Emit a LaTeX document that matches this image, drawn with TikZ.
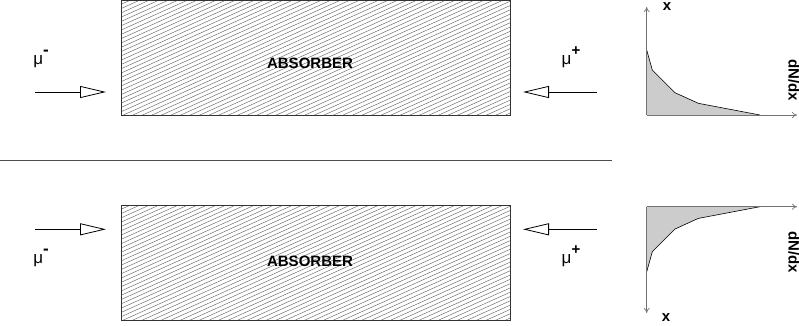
\documentclass[tikz,border=0pt]{standalone}
\usepackage{fontspec}
\setmainfont{Liberation Sans}
\usetikzlibrary{arrows.meta}
\tikzset{
  absbox/.style={draw=black!80, line width=0.9pt},
  hatchline/.style={draw=black!60, line width=0.45pt},
  beam/.style={line width=0.8pt, -{Triangle[open, length=26pt, width=12pt, line width=0.8pt]}},
  lbl/.style={font=\fontsize{15}{15}\selectfont\bfseries, inner sep=0pt},
  mu/.style={font=\fontsize{17}{17}\selectfont, inner sep=0pt, anchor=base},
  axis/.style={draw=black!55, line width=0.7pt, -{To[length=5pt,width=6pt]}},
  dist/.style={fill=black!20, draw=black, line width=0.6pt},
  axlbl/.style={font=\fontsize{15}{15}\selectfont\bfseries, inner sep=0pt}
}
\begin{document}
\begin{tikzpicture}[x=1pt, y=-1pt]
\useasboundingbox (0,0) rectangle (799,325);
\clip (0,0) rectangle (799,325);

% ---------- top absorber ----------
\begin{scope}
  \clip (121,0.5) rectangle (510,115);
  \foreach \c in {0,4.3,...,300} {
    \draw[hatchline] (121,\c) -- (510,\c-175);
  }
\end{scope}
\node[absbox, minimum width=389pt, minimum height=114.5pt, inner sep=0pt] (abs1) at (315.5,57.75) {};
\node[lbl] (t1) at (310,63) {ABSORBER};

% ---------- bottom absorber ----------
\begin{scope}
  \clip (121,205.7) rectangle (510,320.7);
  \foreach \c in {205,209.3,...,505} {
    \draw[hatchline] (121,\c) -- (510,\c-175);
  }
\end{scope}
\node[absbox, minimum width=389pt, minimum height=115pt, inner sep=0pt] (abs2) at (315.5,263.2) {};
\node[lbl] (t2) at (310,261) {ABSORBER};

% separator
\coordinate (s1) at (0,160.7);
\coordinate (s2) at (612,160.7);
\draw[black!70, line width=0.9pt] (s1) -- (s2);

% ---------- beams top ----------
\coordinate (a1s) at (35,92);
\coordinate (a1e) at (106,92);
\draw[beam] (a1s) -- (a1e);
\coordinate (a2s) at (597,92);
\coordinate (a2e) at (523,92);
\draw[beam] (a2s) -- (a2e);
\node[mu] (m1) at (41,64) {μ\raisebox{9pt}{\bfseries -}};
\node[mu] (m2) at (571,64) {μ\raisebox{9pt}{\bfseries\fontsize{15}{15}\selectfont +}};

% ---------- beams bottom ----------
\coordinate (b1s) at (35,229.3);
\coordinate (b1e) at (106,229.3);
\draw[beam] (b1s) -- (b1e);
\coordinate (b2s) at (597,229.3);
\coordinate (b2e) at (523,229.3);
\draw[beam] (b2s) -- (b2e);
\node[mu] (m3) at (41,263) {μ\raisebox{9pt}{\bfseries -}};
\node[mu] (m4) at (571,263) {μ\raisebox{9pt}{\bfseries\fontsize{15}{15}\selectfont +}};

% ---------- top distribution ----------
\coordinate (o1) at (646.7,115);
\coordinate (y1) at (646.7,7);
\coordinate (x1) at (797,115);
\fill[black!20] (o1) -- (646.7,50) -- (652.3,70) -- (675,92.7) -- (698.3,103.3) -- (760,115) -- cycle;
\draw[black, line width=0.6pt] (646.7,50) -- (652.3,70) -- (675,92.7) -- (698.3,103.3) -- (760,115);
\draw[axis] (o1) -- (y1);
\draw[axis] (o1) -- (x1);
\node[axlbl] (xl1) at (667,7) {x};
\node[axlbl, rotate=-90, anchor=base] (dl1) at (788.5,80) {dN/dx};

% ---------- bottom distribution ----------
\coordinate (o2) at (646.7,206.7);
\coordinate (y2) at (646.7,313);
\coordinate (x2) at (797,206.7);
\fill[black!20] (o2) -- (646.7,271.7) -- (652.3,251.7) -- (675,229) -- (698.3,218.4) -- (760,206.7) -- cycle;
\draw[black, line width=0.6pt] (646.7,271.7) -- (652.3,251.7) -- (675,229) -- (698.3,218.4) -- (760,206.7);
\draw[axis] (o2) -- (y2);
\draw[axis] (o2) -- (x2);
\node[axlbl] (xl2) at (666,318) {x};
\node[axlbl, rotate=-90, anchor=base] (dl2) at (788.5,252) {dN/dx};
\end{tikzpicture}
\end{document}
